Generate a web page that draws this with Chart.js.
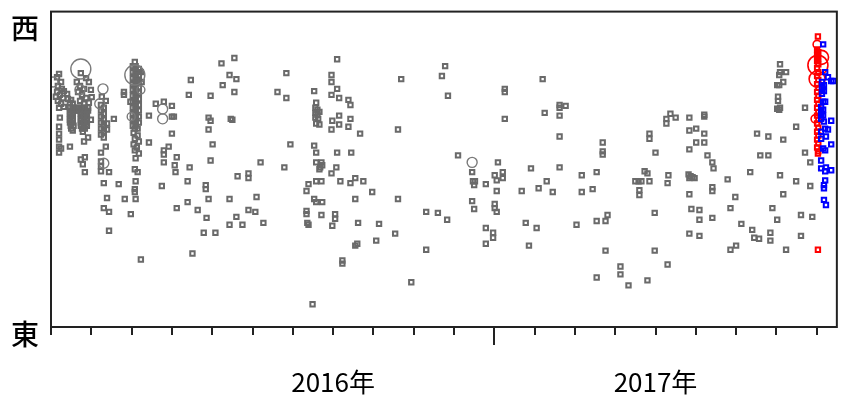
<!DOCTYPE html>
<html>
<head>
<meta charset="utf-8">
<script src="https://cdn.jsdelivr.net/npm/chart.js@4.4.1/dist/chart.umd.min.js"></script>
<style>
  html, body { margin: 0; padding: 0; background: #fff; }
  #wrap { width: 849px; height: 402px; }
</style>
</head>
<body>
<div id="wrap"><canvas id="c" width="849" height="402"></canvas></div>
<script>
// ── Data (x = month index from left edge, y = 0 east … 100 west) ───────────

const MONTH_TICKS = [0, 1, 2, 3, 4, 5, 6, 7, 8, 9, 10, 11, 12, 13, 14, 15, 16, 17, 18, 19];
const YEAR_LABELS = { 7: "2016年", 15: "2017年" };
const YEAR_BREAK = 11;
const X_MAX = 19.5;

// grey observations, early dense columns
const grayEarly = [
  [0.20,80.2],[0.15,79.2],[0.25,77.7],[0.17,76.4],[0.27,75.5],[0.15,74.5],[0.32,74.8],[0.22,73.6],[0.12,73.0],
  [0.30,72.6],[0.17,71.7],[0.25,70.8],[0.32,69.8],[0.20,69.5],[0.40,73.9],[0.42,72.3],[0.50,72.0],[0.47,71.1],[0.54,70.8],
  [0.22,66.4],[0.20,63.5],[0.20,61.3],[0.20,59.4],[0.20,57.2],[0.25,56.6],[0.20,55.3],[0.47,57.2],
  [0.74,80.5],[0.87,78.9],[0.94,77.7],[0.64,77.7],[0.72,76.4],[0.82,75.5],[0.99,75.2],[0.67,74.5],[0.77,73.6],
  [0.87,72.6],[1.01,72.9],[0.72,71.7],[0.82,70.8],[0.94,71.1],
  [0.47,69.5],[0.54,69.5],[0.62,69.5],[0.69,69.5],[0.77,69.5],[0.84,69.5],[0.92,69.5],
  [0.47,68.6],[0.54,68.6],[0.62,68.6],[0.69,68.6],[0.77,68.6],[0.84,68.6],[0.92,68.6],
  [0.47,67.6],[0.54,67.6],[0.47,66.7],[0.54,66.7],[0.47,65.7],[0.54,65.7],[0.47,64.8],[0.54,64.8],
  [0.49,63.8],[0.56,63.8],[0.50,62.9],[0.54,62.3],
  [0.74,67.6],[0.82,67.6],[0.89,67.6],[0.74,66.7],[0.82,66.7],[0.89,66.7],[0.74,65.7],[0.82,65.7],[0.89,65.7],
  [0.74,64.8],[0.82,64.8],[0.89,64.8],[0.74,63.8],[0.82,63.8],[0.89,63.8],[0.77,62.9],[0.84,62.9],[0.79,61.9],
  [0.99,65.7],[0.82,58.8],[0.92,60.1],[0.74,53.1],[0.84,53.8],[0.79,51.6],[0.84,49.1],
  [1.24,70.4],[1.31,69.5],[1.24,68.6],[1.31,67.6],[1.24,66.7],[1.31,65.7],[1.24,64.8],[1.31,63.8],[1.24,62.9],
  [1.31,61.9],[1.24,61.0],[1.31,60.1],[1.39,64.5],[1.39,62.6],[1.26,73.0],[1.36,71.7],
  [1.56,66.0],[1.36,57.2],[1.24,55.3],[1.24,52.5],[1.24,50.9],[1.24,49.4],[1.44,49.1],[1.31,45.6],[1.39,40.9],
  [1.31,37.7],[1.44,36.5],[1.44,30.5],[1.68,45.3],[1.83,40.6],[1.81,74.5],[1.81,73.6],
  [2.08,84.0],[2.03,82.7],[2.10,82.7],[2.10,81.8],[2.18,81.8],[2.03,80.8],[2.10,80.8],[2.10,79.9],[2.18,79.9],
  [2.03,78.9],[2.10,78.9],[2.10,78.0],[2.18,78.0],[2.03,77.0],[2.10,77.0],[2.10,76.1],[2.18,76.1],
  [2.03,75.2],[2.10,75.2],[2.10,74.2],[2.18,74.2],[2.03,73.3],[2.10,73.3],[2.10,72.3],[2.18,72.3],
  [2.03,71.4],[2.10,71.4],[2.10,70.4],[2.18,70.4],[2.03,69.5],[2.10,69.5],[2.10,68.6],[2.18,68.6],
  [2.03,67.6],[2.10,67.6],[2.10,66.7],[2.18,66.7],[2.03,65.7],[2.10,65.7],[2.10,64.8],[2.18,64.8],
  [2.03,63.8],[2.10,63.8],[2.08,62.9],[2.15,62.9],[2.23,80.8],[2.25,77.7],[1.97,71.4],
  [2.05,61.6],[2.15,60.7],[2.08,59.7],[2.18,58.8],[2.05,57.9],[2.13,56.9],[2.08,56.0],[2.18,55.0],
  [2.10,53.5],[2.08,50.0],[2.15,49.1],[2.10,46.2],[2.08,43.7],[2.08,42.8],[2.10,40.6],[1.98,35.8],[2.23,21.4],
  [2.43,67.0],[2.43,58.5],
  [2.80,71.4],[2.60,70.8],[3.00,70.1],[3.00,66.7],[3.05,66.7],[3.00,61.3],[2.92,57.2],[2.80,56.0],[2.80,54.7],
  [2.80,52.2],[3.12,53.8],[3.07,51.3],[3.09,49.1],[2.75,44.7],[3.12,37.7]
];

// grey observations, 2016
const grayMid = [
  [4.55,85.3],[4.23,83.6],[3.47,78.3],[4.43,79.9],[4.60,78.6],[4.26,76.7],[4.55,74.5],[3.42,73.6],[3.96,73.3],
  [5.84,80.5],[5.62,74.5],[5.84,72.6],[3.91,66.4],[3.96,65.4],[4.46,66.0],[4.50,65.7],[3.91,62.6],[4.01,57.9],
  [5.94,57.9],[3.96,52.8],[3.44,50.6],[5.20,52.2],[5.79,50.6],[3.39,46.2],[3.84,45.0],[3.84,43.7],[4.63,47.8],
  [4.90,48.7],[4.90,47.2],[3.39,39.6],[3.91,40.6],[4.43,40.6],[5.10,41.2],[3.64,37.1],[3.86,34.6],[4.60,34.9],
  [4.90,37.1],[5.07,36.5],[4.43,32.4],[4.75,32.4],[5.27,33.0],[3.79,29.9],[4.08,29.9],[3.51,23.3],
  [7.10,84.9],[6.96,79.9],[6.96,77.7],[7.10,75.5],[6.53,74.8],[6.96,73.6],[7.15,72.6],[7.38,72.0],[7.43,70.4],
  [6.58,71.1],[6.56,69.5],[6.61,68.9],[6.66,68.2],[6.56,67.9],[6.61,67.3],[6.56,66.4],[6.63,66.0],
  [6.58,64.5],[6.66,64.2],[6.98,65.4],[7.15,67.0],[7.43,66.0],[7.15,64.2],[7.38,63.5],[6.96,62.6],[7.67,61.3],
  [8.61,62.6],[8.69,78.6],[6.53,57.5],[6.58,55.3],[7.10,55.3],[7.45,55.3],[6.58,52.2],[6.71,52.2],[6.73,51.3],
  [6.68,50.6],[6.66,50.0],[7.08,50.6],[6.96,48.7],[6.58,46.2],[6.71,46.2],[7.18,46.2],[7.43,45.6],[7.55,47.2],
  [7.75,46.2],[6.39,45.3],[6.34,43.1],[7.97,42.8],[6.53,40.6],[6.58,39.6],[6.73,39.6],[7.55,40.6],[8.61,40.6],
  [6.34,36.8],[6.34,35.8],[6.71,35.5],[7.05,35.8],[7.05,34.3],[6.36,33.0],[6.39,32.4],[6.98,32.1],[7.62,33.0],
  [8.14,32.7],[8.54,29.6],[8.07,27.4],[7.55,25.8],[7.60,26.4],[7.23,21.1],[7.23,20.1],[8.94,14.2],[6.49,7.2],
  [9.31,36.5],[9.60,36.2],[9.31,24.5],
  [9.78,82.7],[9.70,79.6],[9.85,73.3],[9.83,34.0]
];

// grey observations, 2017
const grayLate = [
  [12.20,78.6],[11.26,75.5],[11.26,74.5],[12.62,70.4],[12.62,69.5],[12.77,70.1],[12.25,67.9],[12.62,67.0],
  [11.26,66.0],[12.62,60.4],[10.10,54.4],[11.09,52.2],[10.45,49.1],[11.91,50.3],[12.62,50.6],[11.21,49.1],
  [11.01,48.1],[11.06,46.5],[11.21,47.2],[10.47,46.2],[10.52,46.2],[10.50,45.0],[10.79,45.3],[12.30,46.2],
  [12.10,44.0],[11.68,43.1],[11.06,43.1],[12.45,42.8],[10.45,39.9],[10.50,37.4],[11.01,39.0],[11.01,37.7],
  [11.06,36.5],[11.78,33.0],[12.05,31.4],[13.04,32.4],[10.79,31.4],[10.97,29.9],[10.97,28.3],[10.79,26.4],
  [11.86,25.8],
  [15.37,67.6],[15.50,66.4],[15.27,66.0],[15.27,64.5],[15.84,66.4],[16.21,67.3],[16.21,66.7],[15.84,62.3],
  [16.01,62.9],[16.21,61.3],[14.85,61.3],[14.85,59.7],[13.69,58.5],[13.69,55.7],[13.69,54.7],[16.01,58.5],
  [16.21,58.5],[15.84,56.3],[15.00,55.3],[16.29,54.4],[16.41,52.2],[16.44,50.3],[13.17,48.1],[13.54,49.1],
  [14.73,49.4],[14.80,48.7],[15.32,48.1],[14.50,46.2],[14.58,46.2],[14.65,46.2],[14.85,46.2],[15.30,45.6],
  [15.82,48.4],[15.87,47.8],[15.84,47.2],[15.92,47.5],[15.97,47.2],[16.79,46.8],[13.17,42.8],[13.44,43.7],
  [14.60,43.4],[14.60,41.8],[15.84,42.1],[16.41,44.3],[16.41,43.1],[15.89,37.4],[16.09,37.1],[16.09,34.0],
  [16.41,34.6],[13.81,35.5],[13.54,33.6],[13.76,33.6],[14.98,36.2],[15.84,29.6],[16.09,28.9],[13.76,24.2],
  [14.98,24.2],[14.13,19.2],[15.30,19.8],[14.13,16.7],[13.54,15.7],[14.33,13.2],[14.80,14.8],
  [18.09,83.3],[18.09,80.8],[18.24,80.8],[18.07,79.9],[18.17,77.7],[18.02,76.7],[18.07,76.7],[18.04,73.0],
  [18.04,71.7],[18.02,69.2],[18.07,68.9],[18.09,69.5],[18.71,69.5],[18.49,63.5],[17.52,61.3],[17.80,60.4],
  [18.17,59.4],[18.71,55.3],[17.60,54.4],[17.80,54.4],[18.84,52.2],[17.35,49.1],[18.09,48.1],[18.49,46.2],
  [18.84,44.7],[16.98,41.2],[18.17,42.1],[16.86,37.7],[17.90,37.7],[18.61,35.5],[18.89,34.9],[17.13,32.7],
  [18.02,34.0],[17.40,30.8],[17.45,28.3],[17.57,28.0],[17.85,29.9],[17.85,27.4],[18.61,28.9],[17.00,25.8],
  [16.86,24.5],[18.24,24.5]
];

// grey large events: [x, y, size]
const grayBig = [
  [0.74,81.8,10],[0.05,77.7,5],[1.29,75.5,5],[1.21,70.8,5],[0.72,75.2,5],[1.31,51.9,5],
  [2.08,79.9,10],[1.99,66.7,4],[2.23,75.2,4],[2.77,69.1,5],[2.77,66.0,5],[10.45,52.2,5]
];

// latest period, red and blue
const redPts = [
  [19.03,92.1],[19.01,88.0],[19.04,87.1],[19.01,86.2],[19.04,85.2],[19.01,84.3],[19.04,83.3],[19.01,82.1],
  [19.04,80.8],[19.01,79.6],[19.04,78.3],[19.01,77.0],[19.04,75.8],[19.01,74.5],[19.04,73.3],[19.01,72.0],
  [19.04,70.8],[19.01,69.5],[19.04,68.2],[19.01,67.0],[19.04,65.7],[19.01,64.5],[19.04,63.2],[19.01,61.9],
  [19.04,60.7],[19.01,59.4],[19.04,58.2],[19.01,56.9],[19.04,55.7],[19.03,55.0],[19.03,24.5]
];
const redBig = [
  [19.01,89.6,4],[19.03,83.0,10],[19.12,85.5,7],[19.01,78.6,8],[18.96,66.0,4]
];
const bluePts = [
  [19.16,89.6],[19.21,80.8],[19.28,79.2],[19.36,78.0],[19.41,78.0],[19.13,77.7],[19.18,76.7],[19.13,75.8],
  [19.18,74.8],[19.13,73.9],[19.16,71.4],[19.21,71.4],[19.11,69.8],[19.16,68.9],[19.11,67.9],[19.16,67.0],
  [19.11,66.0],[19.18,65.1],[19.36,65.4],[19.21,62.9],[19.28,62.6],[19.11,61.9],[19.23,60.4],[19.11,59.7],
  [19.36,57.9],[19.16,56.6],[19.21,56.0],[19.11,52.8],[19.11,50.3],[19.23,50.6],[19.36,49.7],[19.21,49.4],
  [19.21,46.5],[19.18,45.0],[19.18,44.0],[19.18,40.3],[19.23,38.7]
];

// ── Helpers ────────────────────────────────────────────────────────────────

const toXY = arr => arr.map(p => ({ x: p[0], y: p[1] }));
const FONT = '"Noto Sans CJK JP", "Noto Sans", sans-serif';

function squares(data, color, order) {
  return {
    data: toXY(data), order,
    pointStyle: "rect", pointRadius: 3.1, borderWidth: 2,
    borderColor: color, backgroundColor: "rgba(0,0,0,0)",
  };
}

function rings(data, color, width, order) {
  return {
    data: toXY(data), order,
    pointStyle: "circle", pointRadius: data.map(p => p[2]), borderWidth: width,
    borderColor: color, backgroundColor: "rgba(0,0,0,0)",
  };
}

// frame, long year tick and the 西 / 東 labels
const decor = {
  id: "decor",
  afterDraw(chart) {
    const { ctx, chartArea: a, scales } = chart;
    ctx.save();
    ctx.strokeStyle = "#222";
    ctx.lineWidth = 2;
    ctx.strokeRect(a.left, a.top, a.right - a.left, a.bottom - a.top);
    const bx = Math.round(scales.x.getPixelForValue(YEAR_BREAK));
    ctx.beginPath();
    ctx.moveTo(bx, a.bottom);
    ctx.lineTo(bx, a.bottom + 18);
    ctx.stroke();
    ctx.fillStyle = "#000";
    ctx.font = "500 28px " + FONT;
    ctx.textAlign = "center";
    ctx.textBaseline = "middle";
    ctx.fillText("西", 25, a.top + 17);
    ctx.fillText("東", 25, a.bottom + 7);
    ctx.restore();
  },
};

// ── Chart ──────────────────────────────────────────────────────────────────

new Chart(document.getElementById("c"), {
  type: "scatter",
  data: {
    datasets: [
      squares(bluePts, "#0000ff", 0),
      rings(redBig, "#ff0000", 1.6, 1),
      squares(redPts, "#ff0000", 2),
      rings(grayBig, "#7a7a7a", 1.4, 3),
      squares(grayEarly, "#6a6a6a", 4),
      squares(grayMid, "#6a6a6a", 4),
      squares(grayLate, "#6a6a6a", 4),
    ],
  },
  options: {
    responsive: false,
    animation: false,
    devicePixelRatio: 1,
    events: [],
    layout: { padding: { left: 51, top: 9, right: 11, bottom: 0 } },
    plugins: { legend: { display: false }, tooltip: { enabled: false } },
    scales: {
      x: {
        type: "linear", min: 0, max: X_MAX,
        afterBuildTicks: s => { s.ticks = MONTH_TICKS.map(v => ({ value: v })); },
        afterFit: s => { s.height = 75; },
        border: { display: false },
        grid: { drawOnChartArea: false, tickLength: 8, color: "#222", lineWidth: 2 },
        ticks: {
          autoSkip: false, maxRotation: 0, padding: 32, color: "#000",
          font: { family: FONT, size: 26 },
          callback: v => YEAR_LABELS[v] || "",
        },
      },
      y: { min: 0, max: 100, display: false },
    },
  },
  plugins: [decor],
});
</script>
</body>
</html>
